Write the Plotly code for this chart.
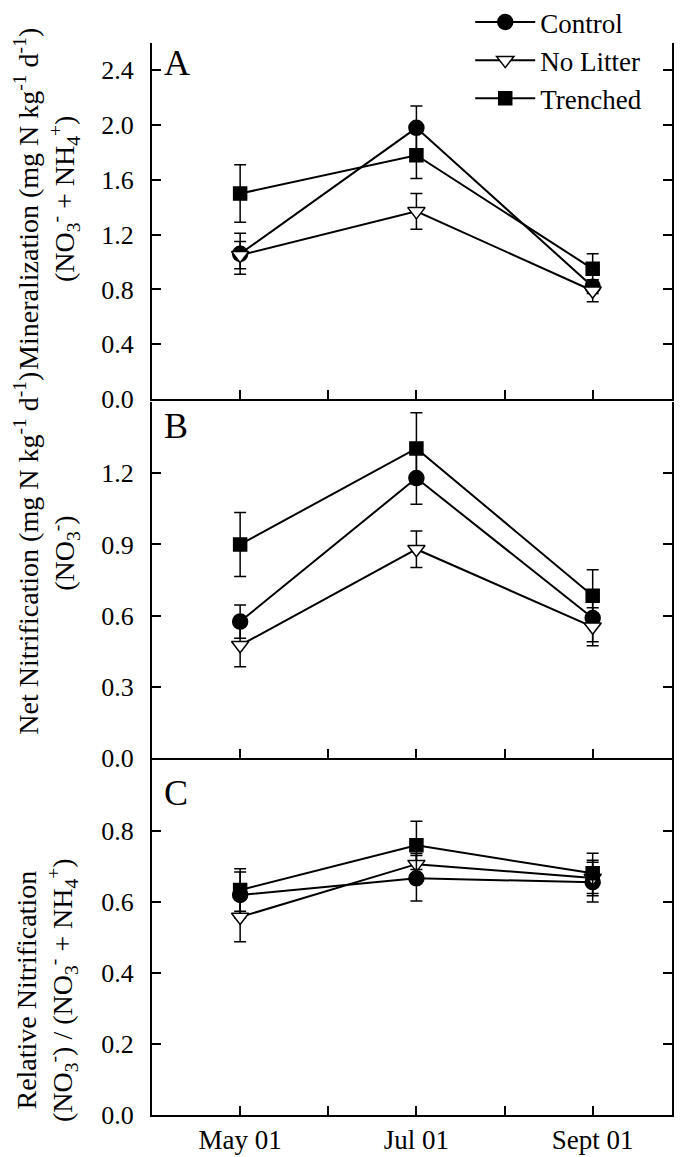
import plotly.graph_objects as go
from plotly.subplots import make_subplots

# x positions: months after May 01
months = [0, 2, 4]
tick_vals = [0, 2, 4]
tick_text = ['May 01', 'Jul 01', 'Sept 01']

series = ['Control', 'No Litter', 'Trenched']

# A - Mineralization
min_control = [1.06, 1.98, 0.82]
min_control_se = [0.15, 0.16, 0.05]
min_nolitter = [1.05, 1.37, 0.79]
min_nolitter_se = [0.10, 0.13, 0.08]
min_trenched = [1.50, 1.78, 0.95]
min_trenched_se = [0.21, 0.17, 0.11]

# B - Net nitrification
nit_control = [0.575, 1.18, 0.59]
nit_control_se = [0.07, 0.11, 0.10]
nit_nolitter = [0.475, 0.88, 0.553]
nit_nolitter_se = [0.09, 0.077, 0.08]
nit_trenched = [0.90, 1.305, 0.684]
nit_trenched_se = [0.135, 0.15, 0.11]

# C - Relative nitrification
rel_control = [0.62, 0.667, 0.656]
rel_control_se = [0.065, 0.064, 0.056]
rel_nolitter = [0.558, 0.707, 0.668]
rel_nolitter_se = [0.07, 0.03, 0.05]
rel_trenched = [0.634, 0.76, 0.681]
rel_trenched_se = [0.06, 0.068, 0.057]

# y tick labels per panel
yticks_a = [0.0, 0.4, 0.8, 1.2, 1.6, 2.0, 2.4]
yticks_b = [0.0, 0.3, 0.6, 0.9, 1.2]
yticks_c = [0.0, 0.2, 0.4, 0.6, 0.8]

FONT = 'Liberation Serif'

styles = {
    'Control': dict(symbol='circle', size=15, color='black', line=dict(color='black', width=1.5)),
    'No Litter': dict(symbol='triangle-down', size=15, color='white', line=dict(color='black', width=1.5)),
    'Trenched': dict(symbol='square', size=13, color='black', line=dict(color='black', width=1.5)),
}

panels = [
    (1, [min_control, min_nolitter, min_trenched], [min_control_se, min_nolitter_se, min_trenched_se]),
    (2, [nit_control, nit_nolitter, nit_trenched], [nit_control_se, nit_nolitter_se, nit_trenched_se]),
    (3, [rel_control, rel_nolitter, rel_trenched], [rel_control_se, rel_nolitter_se, rel_trenched_se]),
]

fig = make_subplots(rows=3, cols=1, shared_xaxes=False, vertical_spacing=0.003)

for row, vals, ses in panels:
    for name, v, se in zip(series, vals, ses):
        fig.add_trace(go.Scatter(
            x=months, y=v, name=name, mode='lines+markers',
            line=dict(color='black', width=2),
            marker=styles[name],
            error_y=dict(type='data', array=se, color='black', thickness=1.5, width=6),
            showlegend=(row == 1), legendgroup=name,
        ), row=row, col=1)

yranges = {1: [0, 2.6], 2: [0, 1.5], 3: [0, 1.0]}
yticks = {1: yticks_a, 2: yticks_b, 3: yticks_c}
domains = {1: [0.668, 1.0], 2: [0.333, 0.665], 3: [0.0, 0.331]}

for row in (1, 2, 3):
    fig.update_yaxes(range=yranges[row], tickmode='array', tickvals=yticks[row], tickformat='.1f',
                     domain=domains[row], automargin=False,
                     showline=True, linecolor='black', linewidth=2, mirror='ticks',
                     ticks='inside', ticklen=9, tickwidth=1.5, tickcolor='black',
                     showgrid=False, zeroline=False, ticklabelstandoff=11,
                     tickfont=dict(family=FONT, size=26, color='black'),
                     row=row, col=1)
    fig.update_xaxes(range=[-1, 4.9], tickmode='array', tickvals=tick_vals, ticktext=tick_text,
                     showticklabels=(row == 3), automargin=False,
                     showline=True, linecolor='black', linewidth=2, mirror=False,
                     ticks='inside', ticklen=9, tickwidth=1.5, tickcolor='black',
                     minor=dict(tick0=0, dtick=1, ticks='inside', ticklen=9, tickwidth=1.5,
                                tickcolor='black', showgrid=False),
                     showgrid=False, zeroline=False,
                     tickfont=dict(family=FONT, size=27, color='black'),
                     row=row, col=1)

ytitles = [
    ('Mineralization (mg N kg<sup>-1</sup> d<sup>-1</sup>)<br>(NO<sub>3</sub><sup>-</sup> + NH<sub>4</sub><sup>+</sup>)', 0.855),
    ('Net Nitrification (mg N kg<sup>-1</sup> d<sup>-1</sup>)<br>(NO<sub>3</sub><sup>-</sup>)', 0.524),
    ('Relative Nitrification<br>(NO<sub>3</sub><sup>-</sup>) / (NO<sub>3</sub><sup>-</sup> + NH<sub>4</sub><sup>+</sup>)', 0.117),
]
for text, yc in ytitles:
    fig.add_annotation(text=text, xref='paper', yref='paper', x=-0.203, y=yc,
                       xanchor='center', yanchor='middle', textangle=-90, showarrow=False,
                       font=dict(family=FONT, size=28, color='black'))

for label, ytop in (('A', 1.0015), ('B', 0.663), ('C', 0.321)):
    fig.add_annotation(text=label, xref='paper', yref='paper', x=0.019, y=ytop,
                       xanchor='left', yanchor='top', showarrow=False,
                       font=dict(family=FONT, size=36, color='black'))

# page body adds an 8 px offset, so the figure is 8 px smaller than the window
fig.update_layout(
    width=677, height=1149,
    margin=dict(l=144, r=13, t=35, b=42, autoexpand=False),
    plot_bgcolor='white', paper_bgcolor='white',
    font=dict(family=FONT, color='black'),
    legend=dict(x=0.612, y=1.042, xanchor='left', yanchor='top',
                font=dict(family=FONT, size=27, color='black'),
                bgcolor='rgba(0,0,0,0)', tracegroupgap=0, itemwidth=60),
)

fig.write_html("out.html")
